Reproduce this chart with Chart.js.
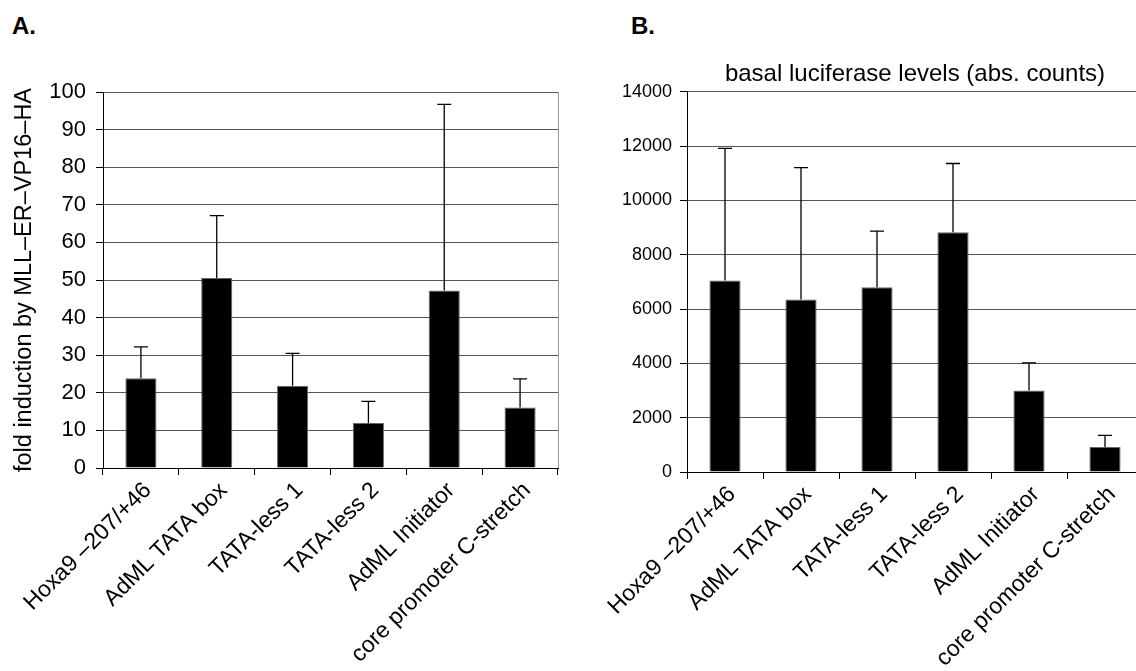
<!DOCTYPE html>
<html>
<head>
<meta charset="utf-8">
<script src="https://cdn.jsdelivr.net/npm/chart.js@4.4.1/dist/chart.umd.min.js"></script>
<style>
  html, body { margin: 0; padding: 0; background: #fff; overflow: hidden; width: 1136px; height: 671px; }
  .panel { position: absolute; font: bold 24px/24px "Liberation Sans", Arial, sans-serif; color: #000; }
  canvas { position: absolute; top: 0; }
</style>
</head>
<body>
<div class="panel" style="left:12px; top:14px;">A.</div>
<div class="panel" style="left:631px; top:14px;">B.</div>
<canvas id="chartA" width="575" height="671" style="left:0px;"></canvas>
<canvas id="chartB" width="600" height="671" style="left:560px;"></canvas>
<script>
const constructs = ['Hoxa9 \u2013207/+46', 'AdML TATA box', 'TATA-less 1', 'TATA-less 2', 'AdML Initiator', 'core promoter C-stretch'];

// fold induction (mean) and upper error (SD)
const foldMean = [23.9, 50.5, 21.9, 12.0, 47.2, 16.1];
const foldSD   = [8.3, 16.6, 8.6, 5.7, 49.5, 7.6];

// basal luciferase, absolute counts
const basalMean = [7050, 6350, 6800, 8830, 3000, 920];
const basalSD   = [4870, 4860, 2070, 2530, 1020, 430];

const FONT = '"Liberation Sans", Arial, sans-serif';

// upper whiskers only, drawn on top of the bars
const errorBars = {
  id: 'errorBars',
  afterDatasetsDraw(chart, args, opts) {
    const ctx = chart.ctx;
    const y = chart.scales.y;
    const meta = chart.getDatasetMeta(0);
    const vals = chart.data.datasets[0].data;
    ctx.save();
    ctx.strokeStyle = '#000';
    ctx.lineWidth = 1.3;
    meta.data.forEach((bar, i) => {
      const top = y.getPixelForValue(vals[i] + opts.sd[i]);
      ctx.beginPath();
      ctx.moveTo(bar.x, bar.y);
      ctx.lineTo(bar.x, top);
      ctx.moveTo(bar.x - opts.cap, top);
      ctx.lineTo(bar.x + opts.cap, top);
      ctx.stroke();
    });
    ctx.restore();
  }
};

// grey right edge of the plot frame
const frameRight = {
  id: 'frameRight',
  beforeDatasetsDraw(chart) {
    const { ctx, chartArea: a } = chart;
    ctx.save();
    ctx.strokeStyle = '#999';
    ctx.lineWidth = 1;
    ctx.beginPath();
    ctx.moveTo(Math.round(a.right) + 0.5, a.top);
    ctx.lineTo(Math.round(a.right) + 0.5, a.bottom);
    ctx.stroke();
    ctx.restore();
  }
};

function makeChart(id, vals, sd, cfg) {
  return new Chart(document.getElementById(id), {
    type: 'bar',
    data: {
      labels: constructs,
      datasets: [{
        data: vals,
        backgroundColor: '#000',
        borderColor: '#666',
        borderWidth: 1,
        barPercentage: 0.41,
        categoryPercentage: 1
      }]
    },
    options: {
      responsive: false,
      animation: false,
      devicePixelRatio: 1,
      layout: { padding: cfg.padding },
      plugins: {
        legend: { display: false },
        tooltip: { enabled: false },
        title: cfg.title,
        errorBars: { sd: sd, cap: 7 }
      },
      scales: {
        x: {
          grid: { offset: true, drawOnChartArea: false, drawTicks: true, tickLength: 7, tickColor: '#000' },
          border: { color: '#000', width: 1 },
          ticks: { color: '#000', minRotation: 45, maxRotation: 45, autoSkip: false, padding: 2,
                   labelOffset: 7, font: { family: FONT, size: 23 } },
          afterFit: s => { s.height = cfg.xHeight; }
        },
        y: {
          min: 0, max: cfg.max,
          grid: { color: '#555', lineWidth: 1, tickLength: 7, tickColor: '#000' },
          border: { color: '#000', width: 1 },
          ticks: { color: '#000', stepSize: cfg.step, padding: cfg.tickPad,
                   callback: v => String(v),
                   font: { family: FONT, size: cfg.tickSize } },
          title: cfg.yTitle,
          afterFit: s => { s.width = cfg.yWidth; }
        }
      }
    },
    plugins: [frameRight, errorBars]
  });
}

makeChart('chartA', foldMean, foldSD, {
  padding: { top: 92, right: 17, left: 0, bottom: 0 },
  max: 100, step: 10, tickSize: 22, tickPad: 10,
  xHeight: 203, yWidth: 103,
  title: { display: false },
  yTitle: { display: true, text: 'fold induction by MLL\u2013ER\u2013VP16\u2013HA', color: '#000',
            font: { family: FONT, size: 23.5 }, padding: { top: 10, bottom: 0 } }
});

makeChart('chartB', basalMean, basalSD, {
  padding: { top: 60, right: 17, left: 0, bottom: 0 },
  max: 14000, step: 2000, tickSize: 18, tickPad: 8,
  xHeight: 199, yWidth: 127,
  title: { display: true, fullSize: false, text: 'basal luciferase levels (abs. counts)', color: '#000',
           font: { family: FONT, size: 24, weight: 'normal' }, padding: { top: 0, bottom: 3 } },
  yTitle: { display: false }
});
</script>
</body>
</html>
